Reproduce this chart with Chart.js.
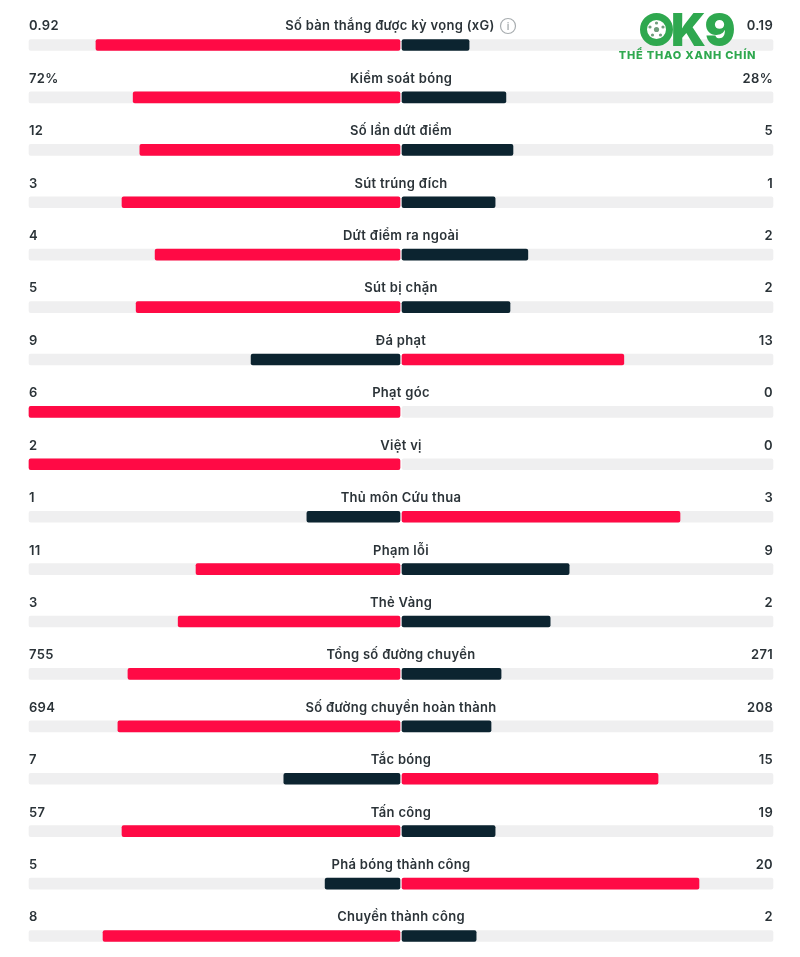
<!DOCTYPE html>
<html>
<head>
<meta charset="utf-8">
<title>Thống kê trận đấu</title>
<script src="https://cdn.jsdelivr.net/npm/chart.js@4"></script>
<style>
  html, body { margin: 0; padding: 0; background: #fff; }
  canvas { display: block; }
</style>
</head>
<body>
<canvas id="stats" width="800" height="957"></canvas>
<script>
const categories = [
  'Số bàn thắng được kỳ vọng (xG)', 'Kiểm soát bóng', 'Số lần dứt điểm', 'Sút trúng đích',
  'Dứt điểm ra ngoài', 'Sút bị chặn', 'Đá phạt', 'Phạt góc', 'Việt vị', 'Thủ môn Cứu thua',
  'Phạm lỗi', 'Thẻ Vàng', 'Tổng số đường chuyền', 'Số đường chuyền hoàn thành', 'Tắc bóng',
  'Tấn công', 'Phá bóng thành công', 'Chuyền thành công'
];
const homeLabels = ['0.92', '72%', '12', '3', '4', '5', '9', '6', '2', '1', '11', '3', '755', '694', '7', '57', '5', '8'];
const awayLabels = ['0.19', '28%', '5', '1', '2', '2', '13', '0', '0', '3', '9', '2', '271', '208', '15', '19', '20', '2'];

// bar lengths, percent of each half of the track
const homeShare = [82, 72, 70.2, 75, 66.1, 71.2, 40.3, 100, 100, 25.3, 55.1, 59.9, 73.4, 76.1, 31.5, 75, 20.4, 80.1];
const awayShare = [18.3, 28.2, 30.1, 25.3, 34.1, 29.3, 59.9, 0, 0, 75, 45.2, 40.1, 26.9, 24.2, 69.1, 25.3, 80.1, 20.2];

const RED = '#ff0a45';
const DARK = '#0c2430';
const TRACK = '#efeff0';
const GAP = 0.27; // white gap in the middle
const TEXT = '#2b3338';
const GREEN = '#2fa84f';

const homeBars = homeShare.map(v => [-v, -GAP]);
const awayBars = awayShare.map(v => v > 0 ? [GAP, v] : null);

// texts above each bar + info icon
const textPlugin = {
  id: 'rowText',
  afterDatasetsDraw(chart) {
    const { ctx, scales } = chart;
    const left = scales.x.getPixelForValue(-100);
    const right = scales.x.getPixelForValue(100);
    const mid = scales.x.getPixelForValue(0);
    ctx.save();
    ctx.fillStyle = TEXT;
    ctx.textBaseline = 'middle';
    ctx.font = '600 13px Inter';
    ctx.letterSpacing = '0.3px';
    categories.forEach((name, i) => {
      const y = scales.y.getPixelForValue(i) - 18.5;
      ctx.textAlign = 'left';
      ctx.fillText(homeLabels[i], left, y);
      ctx.textAlign = 'right';
      ctx.fillText(awayLabels[i], right, y);
      ctx.textAlign = 'center';
      // first label makes room for the icon
      ctx.fillText(name, i === 0 ? mid - 11 : mid, y);
    });
    // info icon next to the xG label
    const iy = scales.y.getPixelForValue(0) - 19;
    ctx.strokeStyle = '#a8adb0';
    ctx.lineWidth = 1.2;
    ctx.beginPath();
    ctx.arc(508, iy, 7.5, 0, Math.PI * 2);
    ctx.stroke();
    ctx.fillStyle = '#a8adb0';
    ctx.font = '600 10px Inter';
    ctx.letterSpacing = '0px';
    ctx.fillText('i', 508, iy + 0.5);
    ctx.restore();
  }
};

// OK9 watermark, top right
const logoPlugin = {
  id: 'logo',
  afterDraw(chart) {
    const ctx = chart.ctx;
    ctx.save();
    ctx.fillStyle = GREEN;
    ctx.strokeStyle = GREEN;
    ctx.lineWidth = 7;
    ctx.beginPath();
    ctx.arc(656.5, 29.5, 13, 0, Math.PI * 2);
    ctx.stroke();
    // ball spots
    ctx.fillStyle = '#6f9d7b';
    [[656.5, 29.5, 2.6], [650, 27, 1.6], [663, 27, 1.6], [652.5, 35, 1.6], [660.5, 35, 1.6], [656.5, 23, 1.6]].forEach(s => {
      ctx.beginPath();
      ctx.arc(s[0], s[1], s[2], 0, Math.PI * 2);
      ctx.fill();
    });
    ctx.fillStyle = GREEN;
    ctx.textBaseline = 'alphabetic';
    ctx.textAlign = 'left';
    ctx.font = '900 46px Inter';
    ctx.letterSpacing = '-1.5px';
    ctx.fillText('K9', 671, 46);
    ctx.font = '800 11px Inter';
    ctx.letterSpacing = '0.8px';
    ctx.textAlign = 'center';
    ctx.textBaseline = 'middle';
    ctx.fillText('THỂ THAO XANH CHÍN', 687.5, 56);
    ctx.restore();
  }
};

new Chart(document.getElementById('stats'), {
  type: 'bar',
  data: {
    labels: categories,
    datasets: [
      {
        label: 'home',
        data: homeBars,
        backgroundColor: ctx => homeShare[ctx.dataIndex] >= awayShare[ctx.dataIndex] ? RED : DARK,
        borderRadius: 2,
        borderSkipped: false,
        order: 1
      },
      {
        label: 'away',
        data: awayBars,
        backgroundColor: ctx => awayShare[ctx.dataIndex] > homeShare[ctx.dataIndex] ? RED : DARK,
        borderRadius: 2,
        borderSkipped: false,
        order: 1
      },
      {
        label: 'trackHome',
        data: categories.map(() => [-100, -GAP]),
        backgroundColor: TRACK,
        borderRadius: 2,
        borderSkipped: false,
        order: 2
      },
      {
        label: 'trackAway',
        data: categories.map(() => [GAP, 100]),
        backgroundColor: TRACK,
        borderRadius: 2,
        borderSkipped: false,
        order: 2
      }
    ]
  },
  options: {
    indexAxis: 'y',
    responsive: false,
    animation: false,
    clip: false,
    layout: { padding: { left: 29, right: 27, top: 45, bottom: 21 } },
    datasets: { bar: { barThickness: 11, grouped: false, clip: false } },
    plugins: { legend: { display: false }, tooltip: { enabled: false } },
    scales: {
      x: { type: 'linear', min: -100, max: 100, display: false },
      y: { type: 'category', offset: false, display: false }
    }
  },
  plugins: [textPlugin, logoPlugin]
});
</script>
</body>
</html>
